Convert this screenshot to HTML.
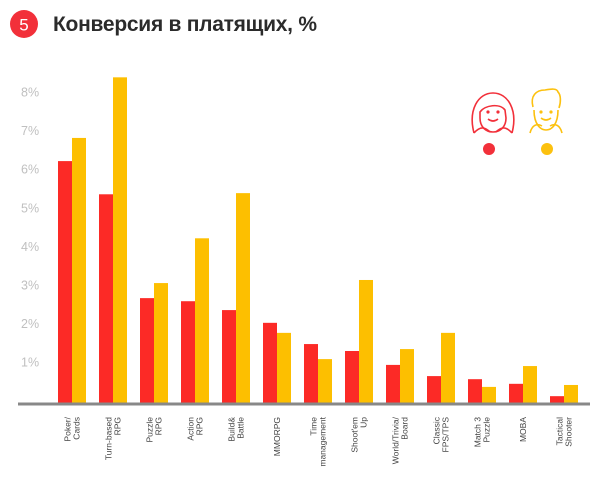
<!DOCTYPE html>
<html><head><meta charset="utf-8"><style>
body{margin:0;background:#fff;width:600px;height:473px;overflow:hidden;font-family:"Liberation Sans","Noto Sans CJK SC",sans-serif}
</style></head><body>
<svg width="600" height="473" viewBox="0 0 600 473" xmlns="http://www.w3.org/2000/svg">
<circle cx="24" cy="24" r="14" fill="#f2303a"/>
<text x="24" y="30.5" text-anchor="middle" font-size="17" fill="#fff">5</text>
<text x="53" y="31" font-size="21" font-weight="bold" fill="#2b2b2b" textLength="264">Конверсия в платящих, %</text>
<g id="yaxis"></g>
<g id="bars"></g>
<g id="xlabels"></g>
<line x1="18" y1="404" x2="590" y2="404" stroke="#888" stroke-width="3"/>
<g fill="none" stroke="#f2303a" stroke-width="1.6">
<path d="M474 133 C468 110 478 93 493 93 C508 93 518 110 512 133"/>
<path d="M480 112 C485 105 500 103 505 110 L506 118 C506 128 499 132 493 132 C486 132 480 127 480 118 Z"/>
<path d="M474 133 C481 125 486 128 490 132 M512 133 C505 125 500 128 496 132"/>
<path d="M488 119 Q493 123 498 119"/>
<circle cx="488" cy="112" r="0.8" fill="#f2303a"/><circle cx="498" cy="112" r="0.8" fill="#f2303a"/>
</g>
<circle cx="489" cy="149" r="6" fill="#f2303a"/>
<g fill="none" stroke="#fcc10f" stroke-width="1.6">
<path d="M533 107 C530 96 536 90 545 90 C551 89 557 88 558 92 C561 95 561 102 559 108"/>
<path d="M534 110 C534 125 541 130 546 130 C552 130 558 124 558 110"/>
<path d="M530 133 C532 125 537 123 542 126 M562 133 C560 125 555 123 550 126"/>
<path d="M541 118 Q546 122 551 118"/>
<circle cx="541" cy="112" r="0.8" fill="#fcc10f"/><circle cx="551" cy="112" r="0.8" fill="#fcc10f"/>
</g>
<circle cx="547" cy="149" r="6" fill="#fcc10f"/>
</svg>
<script>
const categories=[["Poker/","Cards"],["Turn-based","RPG"],["Puzzle","RPG"],["Action","RPG"],["Build&","Battle"],["MMORPG"],["Time","management"],["Shoot'em","Up"],["World/Trivia/","Board"],["Classic","FPS/TPS"],["Match 3","Puzzle"],["MOBA"],["Tactical","Shooter"]];
const femaleValues=[6.21,5.35,2.66,2.58,2.35,2.02,1.47,1.29,0.93,0.64,0.56,0.44,0.12];
const maleValues=[6.81,8.38,3.05,4.21,5.38,1.76,1.08,3.13,1.34,1.76,0.36,0.90,0.41];
const yTicks=[1,2,3,4,5,6,7,8];
const ns="http://www.w3.org/2000/svg";
const y0=400.8, perUnit=38.6;
function yScale(v){return y0-v*perUnit;}
function xScale(i){return 58+i*41;}
const barW=14;
function mk(tag,attrs){const e=document.createElementNS(ns,tag);for(const k in attrs)e.setAttribute(k,attrs[k]);return e;}
const ya=document.getElementById('yaxis');
yTicks.forEach(t=>{
 const tx=mk('text',{x:21,y:yScale(t)+4.5,'font-size':12.5,fill:'#c0c0c0'});
 tx.textContent=t+'%';
 
 
 ya.appendChild(tx);
});
const bg=document.getElementById('bars');
categories.forEach((c,i)=>{
 const x=xScale(i);
 const r=mk('rect',{x:x,y:yScale(femaleValues[i]),width:barW,height:403-yScale(femaleValues[i]),fill:'#fc2a26'});
 
 
 bg.appendChild(r);
 const m=mk('rect',{x:x+barW,y:yScale(maleValues[i]),width:barW,height:403-yScale(maleValues[i]),fill:'#fdbf00'});
 
 
 bg.appendChild(m);
 const xl=document.getElementById('xlabels');
 const cx=x+barW;
 const n=c.length;
 c.forEach((line,j)=>{
  const lx=cx+(j-(n-1)/2)*9+3;
  const t=mk('text',{x:0,y:0,'font-size':8.5,fill:'#444','text-anchor':'end',transform:`translate(${lx},417) rotate(-90)`});
  t.textContent=line;
  
  
  xl.appendChild(t);
 });
});
</script>
</body></html>
